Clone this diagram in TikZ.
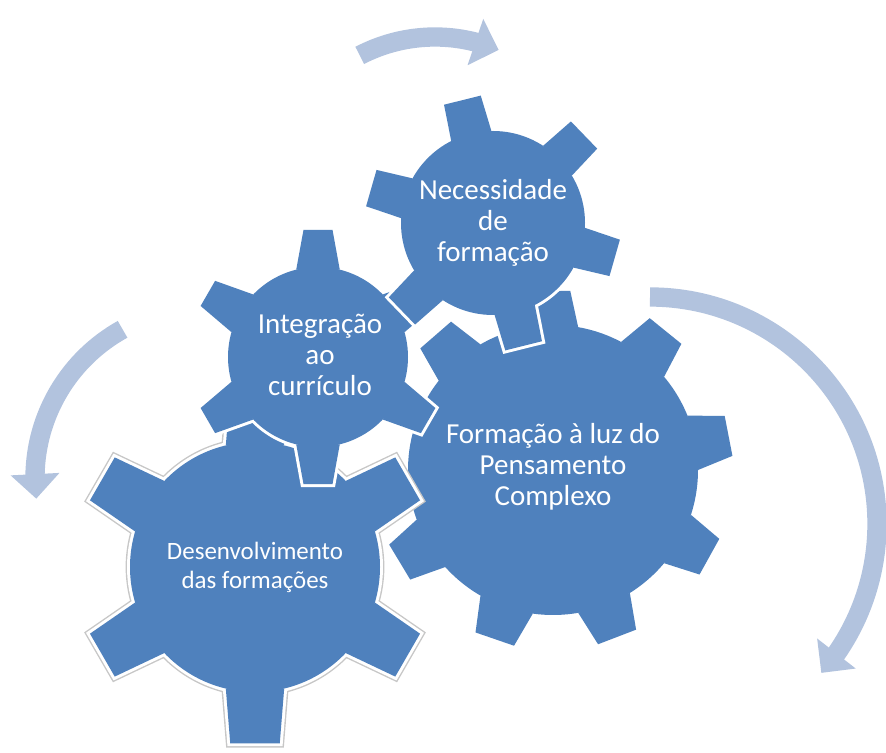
\documentclass[tikz,border=0pt]{standalone}
\usepackage{fontspec}
\setmainfont{Carlito}
\usepackage{tikz}
\usetikzlibrary{arrows.meta,bending}

\definecolor{gearblue}{RGB}{79,129,189}
\definecolor{arrowblue}{RGB}{178,195,222}

\tikzstyle{gearedge} = [draw=white,line width=3.4pt,line join=miter]
\tikzstyle{gearhalo} = [draw=black!22,line width=5pt,line join=miter]
\tikzstyle{gearbody} = [fill=gearblue]
\tikzstyle{geartext} = [align=center,text=white,inner sep=0pt,font=\fontsize{16.5}{17.5}\selectfont]
\tikzstyle{cyclearrow} = [draw=arrowblue,line width=11pt,-{Triangle[width=27pt,length=14pt,flex]}]

% #1 edge style, #2 centre, #3 tooth angles, #4 body radius,
% #5 tip radius, #6 half angle at base, #7 half angle at tip
\newcommand{\drawgear}[7]{%
  \begin{scope}[shift={#2}]
    \foreach \a in {#3}
      \draw[#1] ({\a-#6}:#4) -- ({\a-#7}:#5) -- ({\a+#7}:#5) -- ({\a+#6}:#4) -- cycle;
    \draw[#1] (0,0) circle[radius=#4];
    \foreach \a in {#3}
      \fill[gearbody] ({\a-#6}:#4) -- ({\a-#7}:#5) -- ({\a+#7}:#5) -- ({\a+#6}:#4) -- cycle;
    \fill[gearbody] (0,0) circle[radius=#4];
  \end{scope}
}

\begin{document}
\begin{tikzpicture}[x=0.02cm,y=0.02cm]
  \useasboundingbox (0,0) rectangle (886,753);

  % turning arrows
  \draw[cyclearrow] (435,553) ++(117.5:163) arc[start angle=117.5, end angle=67, radius=163];
  \draw[cyclearrow] (205,275) ++(119:170) arc[start angle=119, end angle=187, radius=170];
  \draw[cyclearrow] (650,229) ++(90:227) arc[start angle=90, end angle=-41, radius=227];

  % gears, back to front
  \drawgear{gearedge}{(553,283)}{11,51,91,131,211,251,291,331}{145}{180}{11}{6.5}
  \drawgear{gearhalo}{(255,186)}{30,90,...,330}{125}{178}{13.5}{8}
  \drawgear{gearedge}{(255,186)}{30,90,...,330}{125}{178}{13.5}{8}
  \drawgear{gearedge}{(318,396)}{30,90,...,330}{90}{128}{14}{6.5}
  \drawgear{gearedge}{(493,530)}{104,164,...,404}{92}{128}{13}{8.5}

  \node[geartext] (formacao) at (553,286) {Formação à luz do\\Pensamento\\Complexo};
  \node[geartext,font=\fontsize{14.2}{16.5}\selectfont] (desenv) at (255,186) {Desenvolvimento\\das formações};
  \node[geartext] (integracao) at (320,398) {Integração\\ao\\currículo};
  \node[geartext] (necessidade) at (493,530) {Necessidade\\de\\formação};
\end{tikzpicture}
\end{document}
